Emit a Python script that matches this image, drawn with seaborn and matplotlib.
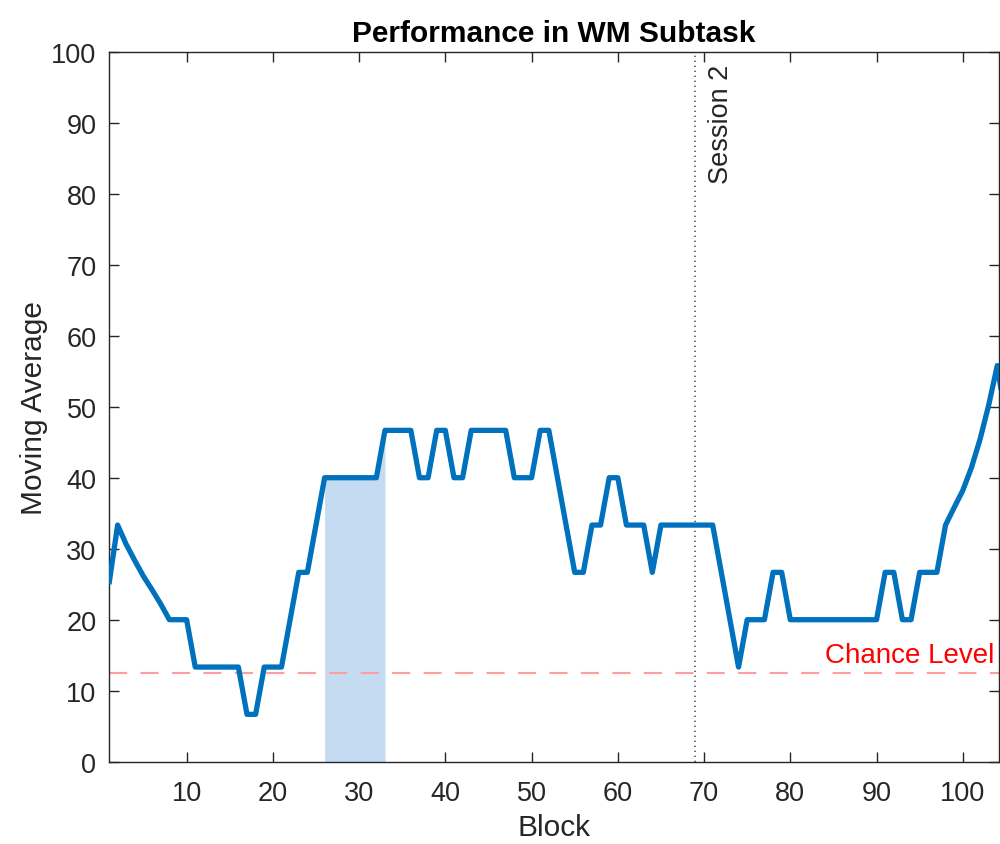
import numpy as np
import pandas as pd
import matplotlib
matplotlib.use("Agg")
import matplotlib.pyplot as plt
import seaborn as sns

# ---- data ----
blocks = list(range(1, 106))
moving_avg = [
    25.0, 33.33, 30.6, 28.3, 26.1, 24.2, 22.2, 20.0, 20.0, 20.0,       # 1-10
    13.33, 13.33, 13.33, 13.33, 13.33, 13.33, 6.67, 6.67, 13.33, 13.33,  # 11-20
    13.33, 20.0, 26.67, 26.67, 33.33, 40.0, 40.0, 40.0, 40.0, 40.0,     # 21-30
    40.0, 40.0, 46.67, 46.67, 46.67, 46.67, 40.0, 40.0, 46.67, 46.67,   # 31-40
    40.0, 40.0, 46.67, 46.67, 46.67, 46.67, 46.67, 40.0, 40.0, 40.0,    # 41-50
    46.67, 46.67, 40.0, 33.33, 26.67, 26.67, 33.33, 33.33, 40.0, 40.0,  # 51-60
    33.33, 33.33, 33.33, 26.67, 33.33, 33.33, 33.33, 33.33, 33.33, 33.33,  # 61-70
    33.33, 26.67, 20.0, 13.33, 20.0, 20.0, 20.0, 26.67, 26.67, 20.0,    # 71-80
    20.0, 20.0, 20.0, 20.0, 20.0, 20.0, 20.0, 20.0, 20.0, 20.0,         # 81-90
    26.67, 26.67, 20.0, 20.0, 26.67, 26.67, 26.67, 33.33, 35.8, 38.2,   # 91-100
    41.4, 45.4, 50.2, 55.8, 48.0,                                       # 101-105
]
highlight_span = [26, 33]
session2_block = 69
chance_level = 12.5
x_ticks = [10, 20, 30, 40, 50, 60, 70, 80, 90, 100]
y_ticks = [0, 10, 20, 30, 40, 50, 60, 70, 80, 90, 100]

title_text = "Performance in WM Subtask"
x_label = "Block"
y_label = "Moving Average"
session_text = "Session 2"
chance_text = "Chance Level"

df = pd.DataFrame({"Block": blocks, "MovingAverage": moving_avg})
shade = df[(df["Block"] >= highlight_span[0]) & (df["Block"] <= highlight_span[1])]

# ---- style ----
sns.set_theme(style="white")
plt.rcParams["font.family"] = ["Liberation Sans", "DejaVu Sans"]
plt.rcParams["lines.solid_joinstyle"] = "round"
plt.rcParams["lines.solid_capstyle"] = "butt"

dark = "#262626"
fig = plt.figure(figsize=(10, 8.45), dpi=100)
ax = fig.add_axes([0.109, 0.0974, 0.890, 0.8402])

ax.fill_between(shade["Block"], 0, shade["MovingAverage"], color="#C5DBF1",
                lw=0, zorder=1)
ax.axhline(chance_level, color="#FF9E9E", lw=1.5, linestyle=(0, (8.7, 6.4)), zorder=2)
ax.axvline(session2_block, color="#555555", lw=1.2, linestyle=(0, (0.8, 2.2)), zorder=2)

sns.lineplot(data=df, x="Block", y="MovingAverage", color="#0072BD",
             linewidth=3.8, ax=ax, zorder=3)

ax.text(70.45, 98.3, session_text, rotation=90, ha="left", va="top",
        fontsize=19.5, color=dark)
ax.text(103.7, 14.0, chance_text, ha="right", va="baseline",
        fontsize=20, color="#FF0000")

ax.set_xlim(1, 104.2)
ax.set_ylim(0, 100)
ax.set_xticks(x_ticks)
ax.set_yticks(y_ticks)

for s in ax.spines.values():
    s.set_visible(True)
    s.set_color(dark)
    s.set_linewidth(1.0)

ax.tick_params(axis="both", which="major", direction="in", length=7, width=1.0,
               color=dark, labelcolor=dark, labelsize=19.5,
               top=True, right=True, bottom=True, left=True, pad=9)
ax.tick_params(axis="x", pad=13)

ax.set_title(title_text, fontsize=21.5, fontweight="bold", color="black", pad=8)
ax.set_xlabel(x_label, fontsize=21.5, color=dark, labelpad=5)
ax.set_ylabel(y_label, fontsize=21.5, color=dark, labelpad=2)
ax.grid(False)

fig.savefig("out.png", dpi=100)
